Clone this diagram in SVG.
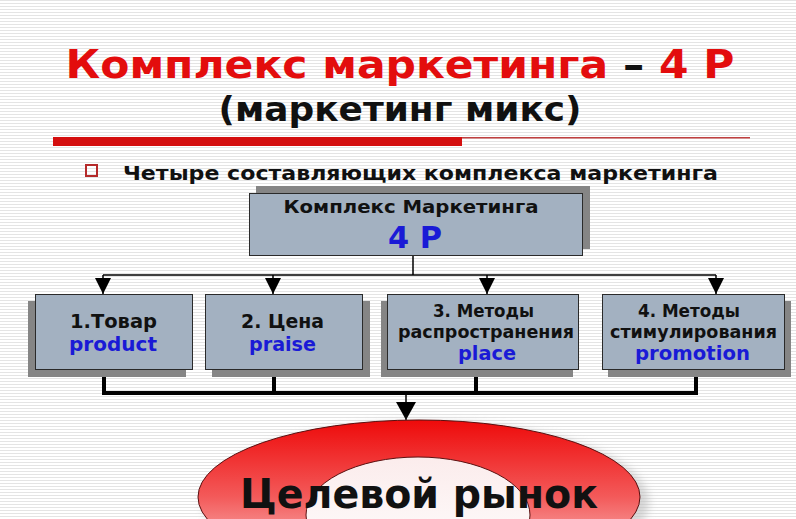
<svg xmlns="http://www.w3.org/2000/svg" width="796" height="519" viewBox="0 0 796 519">
<defs>
<pattern id="stripes" width="8" height="3" patternUnits="userSpaceOnUse">
<rect width="8" height="3" fill="#ffffff"/>
<rect y="0" width="8" height="1" fill="#e4e4e4"/>
</pattern>
<linearGradient id="red" x1="0" y1="0" x2="0" y2="1">
<stop offset="0" stop-color="#ee0a0a"/>
<stop offset="0.5" stop-color="#f35a5a"/>
<stop offset="1" stop-color="#fbd6d6"/>
</linearGradient>
<linearGradient id="inner" x1="0" y1="0" x2="0" y2="1">
<stop offset="0" stop-color="#fbecec"/>
<stop offset="1" stop-color="#ffffff"/>
</linearGradient>
<filter id="blur" x="-20%" y="-20%" width="140%" height="140%"><feGaussianBlur stdDeviation="4"/></filter>
<marker id="arr" markerWidth="16" markerHeight="16" refX="16" refY="8" orient="auto" markerUnits="userSpaceOnUse" viewBox="0 0 16 16">
<path d="M0,0 L16,8 L0,16 Z" fill="#000"/>
</marker>
<marker id="arrBig" markerWidth="18" markerHeight="20" refX="18" refY="10" orient="auto" markerUnits="userSpaceOnUse" viewBox="0 0 18 20">
<path d="M0,0 L18,10 L0,20 Z" fill="#000"/>
</marker>
</defs>
<style>
.t{font-family:"DejaVu Sans","Liberation Sans",sans-serif;font-weight:bold;text-anchor:middle}
.box{fill:#a3b1c1;stroke:#2a2a2a;stroke-width:1}
.sh{fill:#858585}
.blk{fill:#111}
.blu{fill:#1a1ad6}
.thin{stroke:#000;stroke-width:1.5;fill:none}
.thick{stroke:#000;stroke-width:4;fill:none}
</style>
<rect width="796" height="519" fill="url(#stripes)"/>

<g id="title">
<text class="t" x="400" y="78" font-size="39" fill="#e30d0d" textLength="669" lengthAdjust="spacingAndGlyphs">Комплекс маркетинга <tspan fill="#111">–</tspan> 4 Р</text>
<text class="t" x="400" y="121" font-size="34" fill="#111" textLength="363" lengthAdjust="spacingAndGlyphs">(маркетинг микс)</text>
<rect x="53" y="137" width="409" height="9" fill="#d40f0f"/>
<rect x="462" y="137" width="288" height="1.5" fill="#c04040"/>
</g>

<g id="bullet">
<rect x="86" y="165" width="11" height="11" fill="none" stroke="#b52a2a" stroke-width="2"/>
<text class="t" x="420.5" y="180" font-size="20" fill="#111" textLength="595" lengthAdjust="spacingAndGlyphs">Четыре составляющих комплекса маркетинга</text>
</g>

<g id="connectors">
<line class="thin" x1="413" y1="256" x2="413" y2="275" stroke="#555"/>
<line class="thin" x1="103" y1="275" x2="716" y2="275"/>
<line class="thin" x1="103" y1="275" x2="103" y2="294" marker-end="url(#arr)"/>
<line class="thin" x1="273" y1="275" x2="273" y2="294" marker-end="url(#arr)"/>
<line class="thin" x1="487" y1="275" x2="487" y2="294" marker-end="url(#arr)"/>
<line class="thin" x1="716" y1="275" x2="716" y2="294" marker-end="url(#arr)"/>
<path class="thick" d="M104,369 V393 H696 V369 M274,369 V393 M476,369 V393"/>
<line class="thin" x1="406" y1="393" x2="406" y2="420" stroke-width="3" marker-end="url(#arrBig)"/>
</g>

<g id="node-main">
<rect class="sh" x="256" y="186" width="334" height="63"/>
<rect class="box" x="249.5" y="193.5" width="333" height="62"/>
<text class="t blk" x="411" y="213" font-size="18" textLength="255" lengthAdjust="spacingAndGlyphs">Комплекс Маркетинга</text>
<text class="t blu" x="415" y="248" font-size="30" textLength="54" lengthAdjust="spacingAndGlyphs">4 Р</text>
</g>

<g id="node-1">
<rect class="sh" x="28" y="301" width="158" height="76"/>
<rect class="box" x="35.5" y="294.5" width="157" height="75"/>
<text class="t blk" x="113.5" y="328" font-size="20" textLength="87" lengthAdjust="spacingAndGlyphs">1.Товар</text>
<text class="t blu" x="113" y="351" font-size="20" textLength="88" lengthAdjust="spacingAndGlyphs">product</text>
</g>

<g id="node-2">
<rect class="sh" x="212" y="301" width="158" height="76"/>
<rect class="box" x="205.5" y="294.5" width="157" height="75"/>
<text class="t blk" x="282.5" y="328" font-size="20" textLength="83" lengthAdjust="spacingAndGlyphs">2. Цена</text>
<text class="t blu" x="282.5" y="351" font-size="20" textLength="67" lengthAdjust="spacingAndGlyphs">praise</text>
</g>

<g id="node-3">
<rect class="sh" x="381" y="301" width="192" height="76"/>
<rect class="box" x="387.5" y="294.5" width="191" height="75"/>
<text class="t blk" x="483.5" y="317" font-size="18" textLength="101" lengthAdjust="spacingAndGlyphs">3. Методы</text>
<text class="t blk" x="486" y="338" font-size="18" textLength="176" lengthAdjust="spacingAndGlyphs">распространения</text>
<text class="t blu" x="487" y="360" font-size="20" textLength="58" lengthAdjust="spacingAndGlyphs">place</text>
</g>

<g id="node-4">
<rect class="sh" x="608" y="301" width="183" height="76"/>
<rect class="box" x="602.5" y="294.5" width="182" height="75"/>
<text class="t blk" x="689" y="317" font-size="18" textLength="102" lengthAdjust="spacingAndGlyphs">4. Методы</text>
<text class="t blk" x="693.5" y="338" font-size="18" textLength="167" lengthAdjust="spacingAndGlyphs">стимулирования</text>
<text class="t blu" x="692.5" y="360" font-size="20" textLength="115" lengthAdjust="spacingAndGlyphs">promotion</text>
</g>

<g id="node-target">
<ellipse cx="426" cy="502" rx="223" ry="80" fill="#bbbbbb" opacity="0.6" filter="url(#blur)"/>
<ellipse cx="419" cy="497" rx="221" ry="77" fill="url(#red)" stroke="#5a1010" stroke-width="1"/>
<ellipse cx="418" cy="515" rx="112" ry="58" fill="url(#inner)" stroke="#5a1010" stroke-width="1"/>
<text class="t blk" x="419" y="508" font-size="41" textLength="358" lengthAdjust="spacingAndGlyphs">Целевой рынок</text>
</g>
</svg>
